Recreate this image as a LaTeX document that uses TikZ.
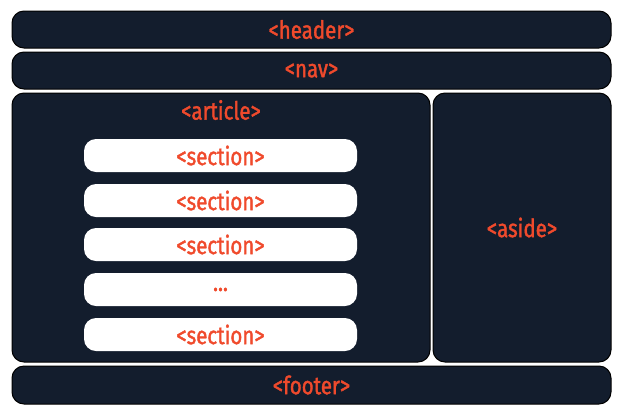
\documentclass[tikz,border=0pt]{standalone}
\usepackage{fontspec}
\setmainfont{Fira Sans}
\newfontfamily\tagfont{Fira Sans}[FakeStretch=0.82, FakeBold=1.5]
\usepackage{xcolor}
\definecolor{navy}{HTML}{131D2D}
\definecolor{tagred}{HTML}{F04A2C}

\begin{document}
\begin{tikzpicture}[x=1pt, y=-1pt,
    block/.style={draw=black, line width=1pt, fill=navy, rounded corners=12pt, inner sep=0pt},
    tag/.style={text=tagred, font=\tagfont\fontsize{25}{28}\selectfont},
    part/.style={tag, fill=white, rounded corners=12pt, inner sep=0pt, minimum width=273pt, minimum height=33pt}]
    \useasboundingbox (0, 0) rectangle (624, 416);

    % page blocks
    \node[block, minimum width=599pt, minimum height=37pt] (header) at (311.5, 29.5) {};
    \node[block, minimum width=599pt, minimum height=37pt] (nav) at (311.5, 70.5) {};
    \node[block, minimum width=418pt, minimum height=269pt] (article) at (221, 227.5) {};
    \node[block, minimum width=178pt, minimum height=269pt] (aside) at (522, 227.5) {};
    \node[block, minimum width=599pt, minimum height=38pt] (footer) at (311.5, 385) {};

    \node[tag] (headertag) at (header) {<header>};
    \node[tag] (navtag) at (nav) {<nav>};
    \node[tag] (articletag) at (221, 110) {<article>};
    \node[tag] (asidetag) at (aside) {<aside>};
    \node[tag] (footertag) at (footer) {<footer>};

    % sections
    \foreach \i/\y/\txt in {1/155.5/{<section>}, 2/200.5/{<section>}, 3/244.5/{<section>}, 4/289.5/{...}, 5/334.5/{<section>}}
        \node[part] (sec\i) at (220.5, \y) {\txt};
\end{tikzpicture}
\end{document}
